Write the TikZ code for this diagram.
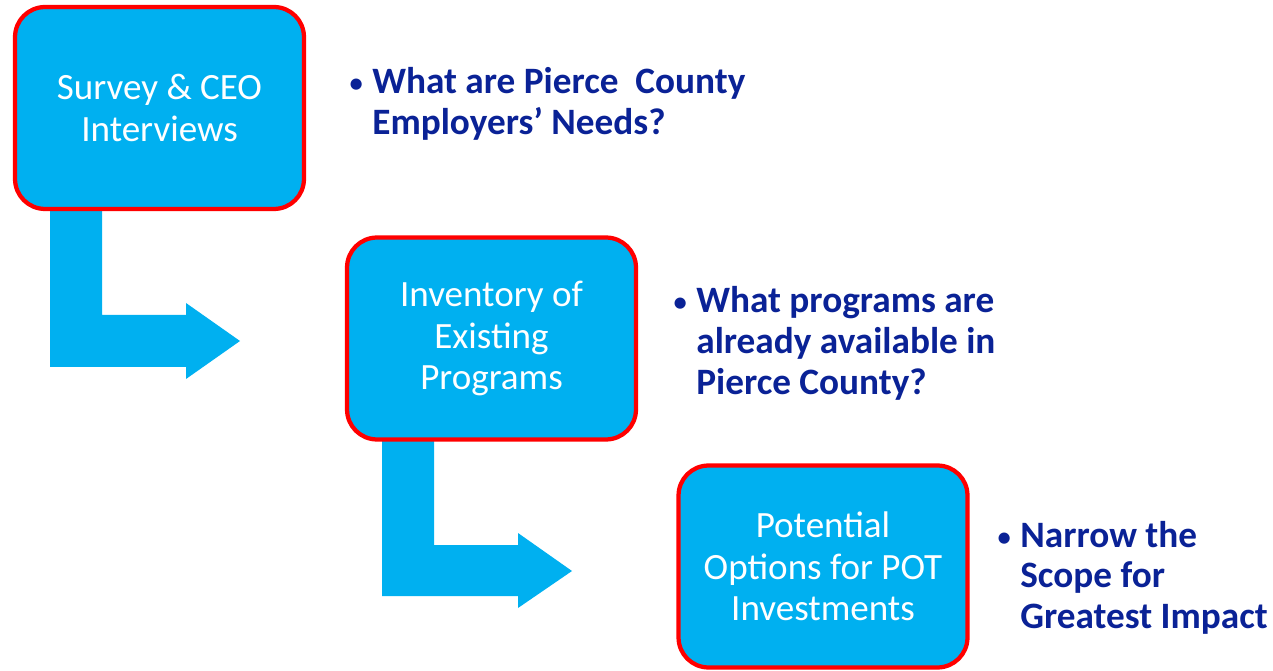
\documentclass[tikz,border=0pt]{standalone}
\usepackage{fontspec}
\setmainfont{Carlito}
\usetikzlibrary{positioning}

\definecolor{boxcyan}{RGB}{0,176,240}
\definecolor{boxred}{RGB}{255,0,0}
\definecolor{asknavy}{RGB}{10,34,150}

\newcommand{\askdot}{\makebox[0.48cm][l]{\mdseries\fontsize{18}{18}\selectfont\textbullet}}

\begin{document}
\begin{tikzpicture}[x=0.02cm,y=-0.02cm,
                    stage/.style={rectangle,rounded corners=0.6cm,draw=boxred,fill=boxcyan,
                                  line width=0.085cm,minimum width=5.78cm,minimum height=4.04cm,
                                  align=center,text=white,font=\fontsize{21.1}{23.6}\selectfont},
                    ask/.style={anchor=base west,inner sep=0pt,text=asknavy,
                                font=\bfseries\fontsize{21.2}{23.3}\selectfont},
                    bend arrow/.style={fill=boxcyan,draw=none}]

  \useasboundingbox (0,0) rectangle (1273,671);

  % bent block arrows
  \path[bend arrow] (50,209) -- (102,209) -- (102,315) -- (186,315) -- (186,303) -- (240,341)
    -- (186,379) -- (186,367) -- (50,367) -- cycle;
  \path[bend arrow] (382,439) -- (434,439) -- (434,545) -- (518,545) -- (518,533) -- (572,571)
    -- (518,608) -- (518,596) -- (382,596) -- cycle;

  \node[stage] (svy) at (159.5,108) {Survey \& CEO\\Interviews};
  \node[stage] (inv) at (491.5,338.5) {Inventory of\\Existing\\Programs};
  \node[stage] (pot) at (823,566.5) {Potential\\Options for POT\\Investments};

  \node[ask] (needs) at (348,94) {\begin{tabular}[t]{@{}l@{}l@{}}
    \askdot & What are Pierce\ \ County\\
    & Employers’ Needs?\end{tabular}};
  \node[ask] (avail) at (672,313) {\begin{tabular}[t]{@{}l@{}l@{}}
    \askdot & What programs are\\
    & already available in\\
    & Pierce County?\end{tabular}};
  \node[ask] (scope) at (996,547) {\begin{tabular}[t]{@{}l@{}l@{}}
    \askdot & Narrow the\\
    & Scope for\\
    & Greatest Impact\end{tabular}};
\end{tikzpicture}
\end{document}
